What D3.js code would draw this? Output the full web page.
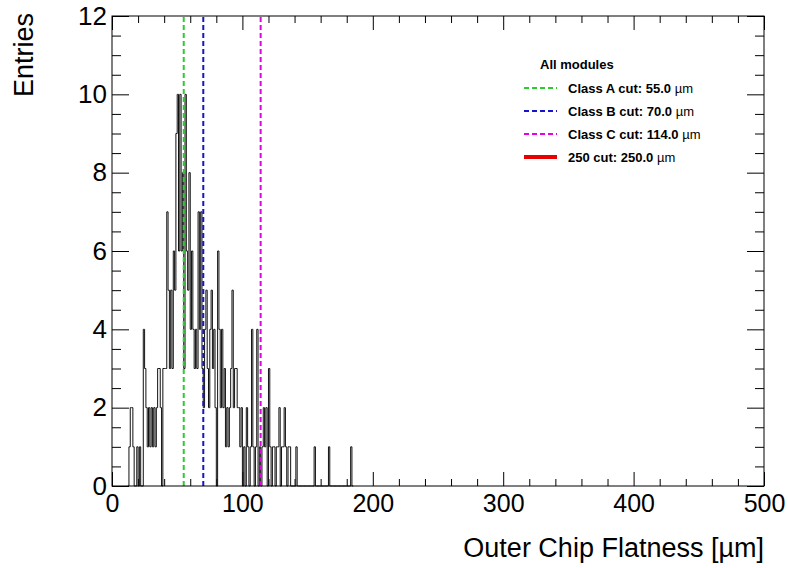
<!DOCTYPE html>
<html lang="en">
<head>
    <meta charset="UTF-8">
    <title>Outer Chip Flatness</title>
    <script src="https://d3js.org/d3.v7.min.js"></script>
    <style>
        body { margin: 0; background: #fff; }
        svg { display: block; font-family: "Liberation Sans", Arial, sans-serif; }
        .tick text { fill: #000; }
    </style>
</head>
<body>
    <svg id="chart" width="788" height="568"></svg>

    <script>
        // histogram: 1 um bins, first bin starts at binLow
        const binLow = 12;
        const counts = [
            0, 1, 2, 2, 1, 0, 0, 1, 0, 1,      // 12-21
            0, 0, 4, 3, 2, 1, 2, 1, 2, 1,      // 22-31
            2, 1, 2, 3, 3, 2, 0, 3, 3, 3,      // 32-41
            7, 5, 3, 5, 3, 6, 5, 9, 10, 6,     // 42-51
            10, 6, 8, 3, 10, 6, 5, 8, 4, 6,    // 52-61
            4, 3, 4, 3, 7, 4, 7, 3, 2, 4,      // 62-71
            5, 3, 2, 4, 5, 3, 4, 2, 0, 6,      // 72-81
            4, 2, 4, 2, 3, 1, 2, 1, 2, 3,      // 82-91
            5, 2, 3, 3, 2, 2, 1, 2, 0, 1,      // 92-101
            0, 2, 1, 0, 1, 4, 1, 0, 1, 4,      // 102-111
            0, 1, 0, 1, 2, 1, 2, 0, 3, 1,      // 112-121
            0, 1, 1, 0, 1, 1, 2, 0, 1, 1,      // 122-131
            2, 1, 0, 1, 1, 0, 0, 0, 0, 1,      // 132-141
            0, 0, 0, 0, 0, 0, 0, 0, 0, 0,      // 142-151
            0, 0, 0, 1, 0, 0, 0, 0, 0, 0,      // 152-161
            0, 0, 0, 0, 1, 0, 0, 0, 0, 0,      // 162-171
            0, 0, 0, 0, 0, 0, 0, 0, 0, 0,      // 172-181
            0, 1, 0                            // 182-184
        ];

        const cutNames = ["Class A cut", "Class B cut", "Class C cut", "250 cut"];
        const cutValues = [55.0, 70.0, 114.0, 250.0];
        const cutColors = ["#2bcc2b", "#1515cc", "#e600e6", "#e80000"];
        const cutDrawn = [true, true, true, false];

        const xTicks = [0, 100, 200, 300, 400, 500];
        const yTicks = [0, 2, 4, 6, 8, 10, 12];

        const svg = d3.select("#chart");
        const frame = {left: 112, right: 764, top: 16, bottom: 486};

        const x = d3.scaleLinear().domain([0, 500]).range([frame.left, frame.right]);
        const y = d3.scaleLinear().domain([0, 12]).range([frame.bottom, frame.top]);

        // ticks (inward, on all four sides like ROOT)
        const xMinor = d3.range(0, 501, 20).filter(v => v % 100 !== 0);
        const yMinor = d3.range(0, 12.01, 0.5).filter(v => v % 2 !== 0);

        function tickGroup(axis, tx, ty) {
            const g = svg.append("g")
                .attr("transform", "translate(" + tx + "," + ty + ")")
                .call(axis);
            g.select(".domain").remove();
            g.selectAll("line").attr("stroke", "#000").attr("stroke-width", 1);
            return g;
        }

        // bottom
        const gxb = tickGroup(d3.axisBottom(x).tickValues(xTicks).tickSizeInner(-14).tickSizeOuter(0)
            .tickPadding(8).tickFormat(d3.format("d")), 0, frame.bottom);
        gxb.selectAll("text").attr("font-size", 25).attr("font-family", "Liberation Sans, Arial, sans-serif");
        tickGroup(d3.axisBottom(x).tickValues(xMinor).tickSizeInner(-7).tickSizeOuter(0).tickFormat(""), 0, frame.bottom);
        // top
        tickGroup(d3.axisTop(x).tickValues(xTicks).tickSizeInner(-14).tickSizeOuter(0).tickFormat(""), 0, frame.top);
        tickGroup(d3.axisTop(x).tickValues(xMinor).tickSizeInner(-7).tickSizeOuter(0).tickFormat(""), 0, frame.top);
        // left
        const gyl = tickGroup(d3.axisLeft(y).tickValues(yTicks).tickSizeInner(-17).tickSizeOuter(0)
            .tickPadding(5).tickFormat(d3.format("d")), frame.left, 0);
        gyl.selectAll("text").attr("font-size", 26).attr("font-family", "Liberation Sans, Arial, sans-serif");
        tickGroup(d3.axisLeft(y).tickValues(yMinor).tickSizeInner(-9).tickSizeOuter(0).tickFormat(""), frame.left, 0);
        // right
        tickGroup(d3.axisRight(y).tickValues(yTicks).tickSizeInner(-17).tickSizeOuter(0).tickFormat(""), frame.right, 0);
        tickGroup(d3.axisRight(y).tickValues(yMinor).tickSizeInner(-9).tickSizeOuter(0).tickFormat(""), frame.right, 0);

        // histogram outline as steps
        const pts = [[x(binLow), y(0)]];
        counts.forEach(function(c, i) {
            pts.push([x(binLow + i), y(c)]);
            pts.push([x(binLow + i + 1), y(c)]);
        });
        pts.push([x(binLow + counts.length), y(0)]);

        svg.append("path")
            .attr("d", d3.line()(pts))
            .attr("fill", "none")
            .attr("stroke", "#111")
            .attr("stroke-width", 1);

        // cut lines
        cutValues.forEach(function(v, i) {
            if (!cutDrawn[i]) return;
            svg.append("line")
                .attr("x1", x(v)).attr("x2", x(v))
                .attr("y1", y(0)).attr("y2", y(12))
                .attr("stroke", cutColors[i])
                .attr("stroke-width", 2)
                .attr("stroke-dasharray", "5,3");
        });

        // frame
        svg.append("rect")
            .attr("x", frame.left).attr("y", frame.top)
            .attr("width", frame.right - frame.left)
            .attr("height", frame.bottom - frame.top)
            .attr("fill", "none")
            .attr("stroke", "#000")
            .attr("stroke-width", 1);

        // axis titles
        svg.append("text")
            .attr("x", frame.right).attr("y", 557)
            .attr("text-anchor", "end")
            .attr("font-size", 27)
            .text("Outer Chip Flatness [\u00b5m]");

        svg.append("text")
            .attr("transform", "translate(33,13) rotate(-90)")
            .attr("text-anchor", "end")
            .attr("font-size", 27)
            .text("Entries");

        // legend
        const legend = svg.append("g").attr("font-size", 13).attr("font-weight", "bold");
        legend.append("text")
            .attr("x", 540).attr("y", 69)
            .text("All modules");

        cutNames.forEach(function(name, i) {
            const ly = 88 + i * 23;
            legend.append("line")
                .attr("x1", 524).attr("x2", 557)
                .attr("y1", ly).attr("y2", ly)
                .attr("stroke", cutColors[i])
                .attr("stroke-width", cutDrawn[i] ? 2 : 4)
                .attr("stroke-dasharray", cutDrawn[i] ? "5,3" : null);
            const t = legend.append("text")
                .attr("x", 568).attr("y", ly + 4.5);
            t.append("tspan").text(name + ": " + cutValues[i].toFixed(1) + " ");
            t.append("tspan").attr("font-weight", "normal").text("\u00b5m");
        });
    </script>
</body>
</html>
